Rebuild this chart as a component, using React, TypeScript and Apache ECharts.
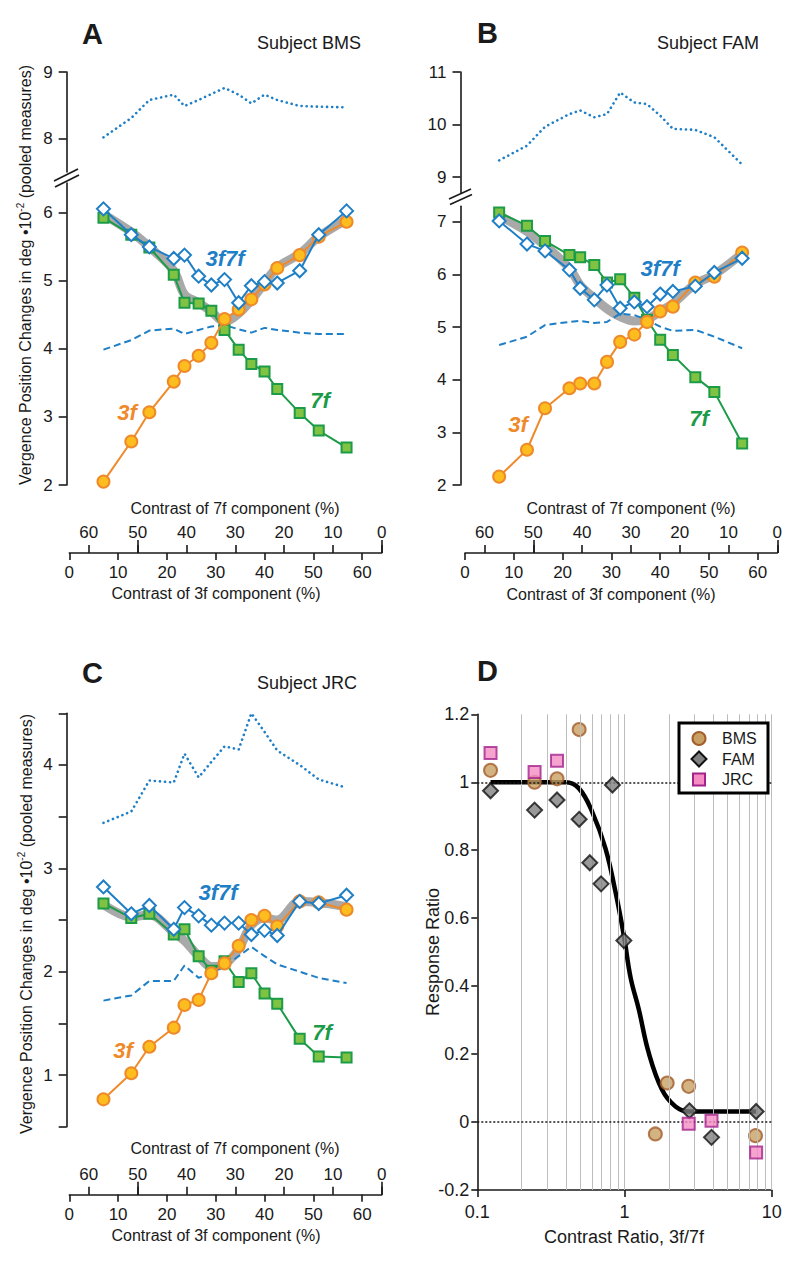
import React, { useEffect, useRef } from "react";
import * as echarts from "echarts";

const FONT = "'Liberation Sans', Arial, Helvetica, sans-serif";

// ---------- data ----------
// contrast of the 3f component (%) for each stimulus (7f = 64 - 3f)
const contrast3f = [7.0, 12.7, 16.4, 21.4, 23.6, 26.5, 29.1, 31.8, 34.7, 37.3, 40.0, 42.6, 47.2, 51.1, 56.8];
const contrastTicks = [0, 10, 20, 30, 40, 50, 60];
const contrastLongTicks7f = [0, 50];

// Panel A — Subject BMS
const a3f = [2.05, 2.64, 3.07, 3.52, 3.75, 3.9, 4.09, 4.44, 4.58, 4.73, 4.95, 5.19, 5.38, 5.65, 5.87];
const a7f = [5.93, 5.68, 5.49, 5.09, 4.68, 4.67, 4.56, 4.28, 3.99, 3.78, 3.67, 3.41, 3.06, 2.8, 2.55];
const a3f7f = [6.06, 5.68, 5.5, 5.33, 5.38, 5.07, 4.94, 5.02, 4.68, 4.93, 4.99, 4.97, 5.15, 5.68, 6.03];
const aBand = [5.98, 5.72, 5.5, 5.15, 4.8, 4.68, 4.55, 4.4, 4.52, 4.72, 4.97, 5.2, 5.4, 5.65, 5.9];
const aDotted = [8.02, 8.31, 8.58, 8.66, 8.49, 8.58, 8.67, 8.76, 8.66, 8.53, 8.66, 8.58, 8.49, 8.48, 8.47];
const aDashed = [3.99, 4.13, 4.27, 4.3, 4.22, 4.28, 4.33, 4.35, 4.29, 4.24, 4.31, 4.28, 4.24, 4.22, 4.22];
const aTicksUpper = [8, 9];
const aTicksLower = [2, 3, 4, 5, 6];

// Panel B — Subject FAM
const b3f = [2.16, 2.67, 3.46, 3.84, 3.93, 3.93, 4.34, 4.72, 4.86, 5.1, 5.3, 5.39, 5.85, 5.96, 6.42];
const b7f = [7.18, 6.93, 6.64, 6.37, 6.33, 6.18, 5.85, 5.91, 5.56, 5.14, 4.76, 4.47, 4.05, 3.77, 2.79];
const b3f7f = [7.02, 6.58, 6.45, 6.09, 5.74, 5.52, 5.8, 5.36, 5.48, 5.39, 5.63, 5.68, 5.78, 6.04, 6.31];
const bBand = [7.12, 6.82, 6.55, 6.12, 5.8, 5.55, 5.35, 5.2, 5.12, 5.15, 5.3, 5.45, 5.82, 6.0, 6.4];
const bDotted = [9.32, 9.6, 9.96, 10.2, 10.27, 10.14, 10.2, 10.61, 10.42, 10.39, 10.17, 9.92, 9.9, 9.76, 9.24];
const bDashed = [4.66, 4.82, 5.04, 5.1, 5.12, 5.08, 5.1, 5.26, 5.23, 5.14, 5.01, 4.93, 4.95, 4.82, 4.6];
const bTicksUpper = [9, 10, 11];
const bTicksLower = [2, 3, 4, 5, 6, 7];

// Panel C — Subject JRC
const c3f = [0.765, 1.017, 1.274, 1.458, 1.678, 1.727, 1.985, 2.08, 2.25, 2.5, 2.54, 2.44, 2.68, 2.67, 2.6];
const c7f = [2.66, 2.52, 2.56, 2.36, 2.41, 2.15, 2.01, 2.1, 1.9, 1.985, 1.79, 1.69, 1.35, 1.18, 1.17];
const c3f7f = [2.82, 2.56, 2.64, 2.41, 2.62, 2.54, 2.45, 2.47, 2.47, 2.36, 2.4, 2.35, 2.68, 2.66, 2.74];
const cBand = [2.65, 2.53, 2.55, 2.38, 2.3, 2.15, 2.05, 2.07, 2.22, 2.45, 2.52, 2.5, 2.68, 2.67, 2.63];
const cDotted = [3.44, 3.55, 3.85, 3.83, 4.11, 3.88, 4.03, 4.18, 4.15, 4.5, 4.32, 4.14, 4.0, 3.86, 3.78];
const cDashed = [1.72, 1.77, 1.91, 1.91, 2.06, 1.94, 1.99, 2.05, 2.15, 2.24, 2.15, 2.07, 2.0, 1.94, 1.89];
const cTicks = [0.5, 1, 1.5, 2, 2.5, 3, 3.5, 4, 4.5];
const cLabels = [1, 2, 3, 4];

// Panel D — response ratio vs contrast ratio
const subjects = ["BMS", "FAM", "JRC"];
const bmsRatio = [0.123, 0.245, 0.348, 0.492, 1.62, 1.95, 2.73, 7.76];
const bmsResp = [1.035, 1.0, 1.01, 1.155, -0.035, 0.115, 0.105, -0.04];
const famRatio = [0.123, 0.245, 0.348, 0.492, 0.581, 0.693, 0.828, 0.99, 2.76, 3.9, 7.84];
const famResp = [0.975, 0.918, 0.948, 0.891, 0.763, 0.701, 0.992, 0.534, 0.033, -0.045, 0.031];
const jrcRatio = [0.123, 0.245, 0.348, 2.73, 3.9, 7.84];
const jrcResp = [1.086, 1.03, 1.063, -0.005, 0.004, -0.09];
const fitRatio = [0.123, 0.25, 0.397, 0.49, 0.603, 0.743, 0.869, 0.99, 1.1, 1.25, 1.46, 1.8, 2.22, 2.76, 7.84];
const fitResp = [1.0, 1.0, 1.0, 0.982, 0.913, 0.805, 0.677, 0.549, 0.425, 0.332, 0.204, 0.095, 0.046, 0.031, 0.031];
const dGridLines = [0.2, 0.3, 0.4, 0.5, 0.6, 0.7, 0.8, 0.9, 1, 2, 3, 4, 5, 6, 7, 8, 9, 10];
const dRefLines = [0, 1];

// ---------- styles ----------
const BLUE = "#1f7fc6";
const ORANGE = "#ef8a2b";
const ORANGE_FILL = "#fdbd1e";
const GREEN = "#1c9b48";
const GREEN_FILL = "#80c342";
const GRAY = "#a9a9a9";
const INK = "#1a1a1a";
const BMS_STYLE = { color: "#c9a063", borderColor: "#a25e2c", borderWidth: 2 };
const FAM_STYLE = { color: "#808080", borderColor: "#111111", borderWidth: 2 };
const JRC_STYLE = { color: "#f58cc4", borderColor: "#a3238c", borderWidth: 2 };

const pts = (ys: number[]) => contrast3f.map((x, i) => [x, ys[i]]);
const zip = (xs: number[], ys: number[]) => xs.map((x, i) => [x, ys[i]]);

type PanelCfg = {
  id: string;
  x: number; y: number; xUp: number; yUp: number;
  p3f: number[]; p7f: number[]; p3f7f: number[]; band: number[]; dotted: number[]; dashed: number[];
};

function panelSeries(p: PanelCfg): any[] {
  const common = { silent: true, animation: false, emphasis: { disabled: true } };
  return [
    { ...common, type: "line", name: p.id + "-dotted", xAxisIndex: p.xUp, yAxisIndex: p.yUp, data: pts(p.dotted), symbol: "none",
      lineStyle: { color: BLUE, width: 2.6, type: [0.1, 5], cap: "round" }, z: 2 },
    { ...common, type: "line", name: p.id + "-dashed", xAxisIndex: p.x, yAxisIndex: p.y, data: pts(p.dashed), symbol: "none",
      lineStyle: { color: BLUE, width: 2, type: [7, 4] }, z: 2 },
    { ...common, type: "line", name: p.id + "-band", xAxisIndex: p.x, yAxisIndex: p.y, data: pts(p.band), symbol: "none", smooth: 0.35,
      lineStyle: { color: GRAY, width: 9, cap: "round", join: "round" }, z: 1 },
    { ...common, type: "line", name: p.id + "-7f", xAxisIndex: p.x, yAxisIndex: p.y, data: pts(p.p7f), symbol: "rect", symbolSize: 10,
      lineStyle: { color: GREEN, width: 2 }, itemStyle: { color: GREEN_FILL, borderColor: GREEN, borderWidth: 2 }, z: 3 },
    { ...common, type: "line", name: p.id + "-3f", xAxisIndex: p.x, yAxisIndex: p.y, data: pts(p.p3f), symbol: "circle", symbolSize: 12,
      lineStyle: { color: ORANGE, width: 2 }, itemStyle: { color: ORANGE_FILL, borderColor: ORANGE, borderWidth: 2 }, z: 4 },
    { ...common, type: "line", name: p.id + "-3f7f", xAxisIndex: p.x, yAxisIndex: p.y, data: pts(p.p3f7f), symbol: "diamond", symbolSize: 13,
      lineStyle: { color: BLUE, width: 2 }, itemStyle: { color: "#ffffff", borderColor: BLUE, borderWidth: 2 }, z: 5 },
  ];
}

const tickLabel = { color: INK, fontSize: 17, fontFamily: FONT };
const axisLineStyle = { color: INK, width: 1.6 };

function contrastAxes(gridIndex: number): any[] {
  const base = { type: "value", gridIndex, min: 0, max: 64, position: "bottom", offset: 68, splitLine: { show: false } };
  return [
    { ...base, axisLine: { show: true, onZero: false, lineStyle: axisLineStyle },
      axisTick: { show: true, length: 7, customValues: contrastTicks, lineStyle: axisLineStyle },
      axisLabel: { ...tickLabel, margin: 11, customValues: contrastTicks } },
    { ...base, inverse: true, axisLine: { show: false, onZero: false },
      axisTick: { show: true, inside: true, length: 8, customValues: contrastTicks, lineStyle: axisLineStyle },
      axisLabel: { ...tickLabel, inside: true, margin: 12, customValues: contrastTicks } },
    { ...base, inverse: true, axisLine: { show: false, onZero: false },
      axisTick: { show: true, inside: true, length: 13, customValues: contrastLongTicks7f, lineStyle: axisLineStyle },
      axisLabel: { show: false } },
  ];
}

function yAx(gridIndex: number, min: number, max: number, ticks: number[], labels: number[], offset: number): any {
  return {
    type: "value", gridIndex, min, max, offset,
    axisLine: { show: true, onZero: false, lineStyle: axisLineStyle },
    axisTick: { show: true, length: 8, customValues: ticks, lineStyle: axisLineStyle },
    axisLabel: { ...tickLabel, margin: 14, customValues: labels },
    splitLine: { show: false },
  };
}

function txt(text: string, x: number, y: number, extra: any = {}, align = "left"): any {
  return {
    type: "text", x, y, silent: true, z: 100,
    style: { text, fill: INK, fontFamily: FONT, fontSize: 16, align, verticalAlign: "middle", ...extra },
  };
}

function seriesLabel(text: string, x: number, y: number, color: string): any {
  return txt(text, x, y, { fill: color, fontSize: 22, fontWeight: "bold", fontStyle: "italic" }, "center");
}

function yTitle(x: number, y: number): any {
  return {
    type: "text", x, y, rotation: Math.PI / 2, silent: true, z: 100,
    style: {
      text: "{a|Vergence Position Changes in deg •10}{s|-2}{a| (pooled measures)}",
      fill: INK, fontFamily: FONT, fontSize: 16, align: "center", verticalAlign: "middle",
      rich: {
        a: { fontFamily: FONT, fontSize: 16, fill: INK, color: INK, lineHeight: 20 },
        s: { fontFamily: FONT, fontSize: 10, fill: INK, color: INK, lineHeight: 11, verticalAlign: "top" },
      },
    },
  };
}

function breakMarks(x1: number, y1: number, x2: number, y2: number, gap: number): any[] {
  const st = { stroke: INK, lineWidth: 1.6 };
  return [
    { type: "line", silent: true, z: 100, shape: { x1, y1, x2, y2 }, style: st },
    { type: "line", silent: true, z: 100, shape: { x1: x1 + 1, y1: y1 + gap, x2: x2 + 1, y2: y2 + gap }, style: st },
  ];
}

// legend for panel D drawn as a boxed key
function legendBox(): any[] {
  const bx = 679, by = 723, bw = 89, bh = 70;
  const sx = 699, tx = 722;
  const rows = [738.5, 759, 779.5];
  const stroke = (s: any) => ({ fill: s.color, stroke: s.borderColor, lineWidth: s.borderWidth });
  return [
    { type: "rect", silent: true, z: 110, shape: { x: bx, y: by, width: bw, height: bh }, style: { fill: "#fff", stroke: "#000", lineWidth: 3 } },
    { type: "circle", silent: true, z: 111, shape: { cx: sx, cy: rows[0], r: 6.5 }, style: stroke(BMS_STYLE) },
    { type: "polygon", silent: true, z: 111,
      shape: { points: [[sx, rows[1] - 7.5], [sx + 7.5, rows[1]], [sx, rows[1] + 7.5], [sx - 7.5, rows[1]]] }, style: stroke(FAM_STYLE) },
    { type: "rect", silent: true, z: 111, shape: { x: sx - 6, y: rows[2] - 6, width: 12, height: 12 }, style: stroke(JRC_STYLE) },
    ...subjects.map((s, i) => ({ ...txt(s, tx, rows[i]), z: 112 })),
  ];
}

function buildOption(): any {
  const panels: PanelCfg[] = [
    { id: "A", x: 1, y: 1, xUp: 0, yUp: 0, p3f: a3f, p7f: a7f, p3f7f: a3f7f, band: aBand, dotted: aDotted, dashed: aDashed },
    { id: "B", x: 5, y: 3, xUp: 4, yUp: 2, p3f: b3f, p7f: b7f, p3f7f: b3f7f, band: bBand, dotted: bDotted, dashed: bDashed },
    { id: "C", x: 8, y: 4, xUp: 8, yUp: 4, p3f: c3f, p7f: c7f, p3f7f: c3f7f, band: cBand, dotted: cDotted, dashed: cDashed },
  ];

  const hiddenX = (gridIndex: number) => ({ type: "value", gridIndex, min: 0, max: 64, show: false });

  const xAxis: any[] = [
    hiddenX(0), // 0  A upper
    ...contrastAxes(1), // 1,2,3  A lower
    hiddenX(2), // 4  B upper
    ...contrastAxes(3), // 5,6,7  B lower
    ...contrastAxes(4), // 8,9,10 C
    { // 11 D
      type: "log", logBase: 10, gridIndex: 5, min: 0.1, max: 10,
      axisLine: { show: true, onZero: false, lineStyle: axisLineStyle },
      axisTick: { show: true, length: 7, lineStyle: axisLineStyle },
      minorTick: { show: false },
      axisLabel: { color: INK, fontSize: 18, fontFamily: FONT, margin: 13 },
      splitLine: { show: false },
    },
  ];

  const yAxis: any[] = [
    yAx(0, 7.5, 9, aTicksUpper, aTicksUpper, 2.6),
    yAx(1, 2, 6.44, aTicksLower, aTicksLower, 2.6),
    yAx(2, 8.7, 11, bTicksUpper, bTicksUpper, 4.5),
    yAx(3, 2, 7.3, bTicksLower, bTicksLower, 4.5),
    yAx(4, 0.5, 4.5, cTicks, cLabels, 2.6),
    {
      type: "value", gridIndex: 5, min: -0.2, max: 1.2, interval: 0.2,
      axisLine: { show: true, onZero: false, lineStyle: axisLineStyle },
      axisTick: { show: true, length: 6, lineStyle: axisLineStyle },
      axisLabel: { color: INK, fontSize: 18, fontFamily: FONT, margin: 8 },
      splitLine: { show: false },
    },
  ];

  const series: any[] = [];
  panels.forEach((p) => series.push(...panelSeries(p)));

  const dCommon = { silent: true, animation: false, emphasis: { disabled: true }, xAxisIndex: 11, yAxisIndex: 5 };
  series.push(
    { ...dCommon, type: "line", name: "grid-v", data: [[1, 0.5]], symbol: "none", lineStyle: { opacity: 0 }, z: 1,
      markLine: { silent: true, animation: false, symbol: ["none", "none"], label: { show: false },
        lineStyle: { color: "#bdbdbd", width: 1, type: "solid" },
        data: dGridLines.map((v) => ({ xAxis: v })) } },
    { ...dCommon, type: "line", name: "ref-h", data: [[1, 0.5]], symbol: "none", lineStyle: { opacity: 0 }, z: 2,
      markLine: { silent: true, animation: false, symbol: ["none", "none"], label: { show: false },
        lineStyle: { color: INK, width: 1.5, type: [2, 2] },
        data: dRefLines.map((v) => ({ yAxis: v })) } },
    { ...dCommon, type: "line", name: "fit", data: zip(fitRatio, fitResp), symbol: "none", smooth: 0.4,
      lineStyle: { color: "#000", width: 4.5, join: "round" }, z: 3 },
    { ...dCommon, type: "scatter", name: subjects[0], data: zip(bmsRatio, bmsResp), symbol: "circle", symbolSize: 13,
      itemStyle: BMS_STYLE, z: 4 },
    { ...dCommon, type: "scatter", name: subjects[1], data: zip(famRatio, famResp), symbol: "diamond", symbolSize: 15,
      itemStyle: FAM_STYLE, z: 5 },
    { ...dCommon, type: "scatter", name: subjects[2], data: zip(jrcRatio, jrcResp), symbol: "rect", symbolSize: 12,
      itemStyle: JRC_STYLE, z: 6 },
  );

  const graphic: any[] = [
    txt("A", 82, 34, { fontSize: 29, fontWeight: "bold" }),
    txt("B", 477, 33, { fontSize: 29, fontWeight: "bold" }),
    txt("C", 82, 673, { fontSize: 29, fontWeight: "bold" }),
    txt("D", 477, 671, { fontSize: 29, fontWeight: "bold" }),
    txt("Subject BMS", 257, 43, { fontSize: 18 }),
    txt("Subject FAM", 657, 43, { fontSize: 18 }),
    txt("Subject JRC", 257, 683, { fontSize: 18 }),
    yTitle(25, 275),
    yTitle(26, 924),
    txt("Contrast of 7f component (%)", 235, 508, {}, "center"),
    txt("Contrast of 3f component (%)", 216, 593, {}, "center"),
    txt("Contrast of 7f component (%)", 631, 508, {}, "center"),
    txt("Contrast of 3f component (%)", 611, 594, {}, "center"),
    txt("Contrast of 7f component (%)", 235, 1148, {}, "center"),
    txt("Contrast of 3f component (%)", 216, 1235, {}, "center"),
    txt("Contrast Ratio, 3f/7f", 624, 1237, { fontSize: 18 }, "center"),
    { type: "text", x: 433, y: 952, rotation: Math.PI / 2, silent: true, z: 100,
      style: { text: "Response Ratio", fill: INK, fontFamily: FONT, fontSize: 18, align: "center", verticalAlign: "middle" } },
    seriesLabel("3f7f", 225, 258, BLUE),
    seriesLabel("3f", 127, 412, ORANGE),
    seriesLabel("7f", 320, 400, GREEN),
    seriesLabel("3f7f", 660, 268, BLUE),
    seriesLabel("3f", 518, 424, ORANGE),
    seriesLabel("7f", 699, 418, GREEN),
    seriesLabel("3f7f", 218, 892, BLUE),
    seriesLabel("3f", 123, 1050, ORANGE),
    seriesLabel("7f", 322, 1032, GREEN),
    ...breakMarks(54, 181, 78, 169, 6),
    ...breakMarks(449, 199, 471, 189, 5.5),
    ...legendBox(),
  ];

  return {
    animation: false,
    backgroundColor: "#ffffff",
    textStyle: { fontFamily: FONT },
    grid: [
      { left: 69.3, top: 72, width: 312.4, height: 100, outerBoundsMode: "none" },
      { left: 69.3, top: 183, width: 312.4, height: 302, outerBoundsMode: "none" },
      { left: 465, top: 72, width: 312.3, height: 121, outerBoundsMode: "none" },
      { left: 465, top: 206.2, width: 312.3, height: 278.8, outerBoundsMode: "none" },
      { left: 69.3, top: 713.3, width: 312.4, height: 413.4, outerBoundsMode: "none" },
      { left: 477.3, top: 714.3, width: 294.4, height: 475.7, outerBoundsMode: "none" },
    ],
    xAxis,
    yAxis,
    series,
    graphic,
  };
}

export default function App() {
  const ref = useRef<HTMLDivElement>(null);
  useEffect(() => {
    const chart = echarts.init(ref.current as HTMLDivElement, null, { renderer: "svg" });
    chart.setOption(buildOption());
    return () => chart.dispose();
  }, []);
  return (
    <div
      ref={ref}
      style={{ position: "absolute", left: 0, top: 0, width: 800, height: 1261, background: "#fff" }}
    />
  );
}
